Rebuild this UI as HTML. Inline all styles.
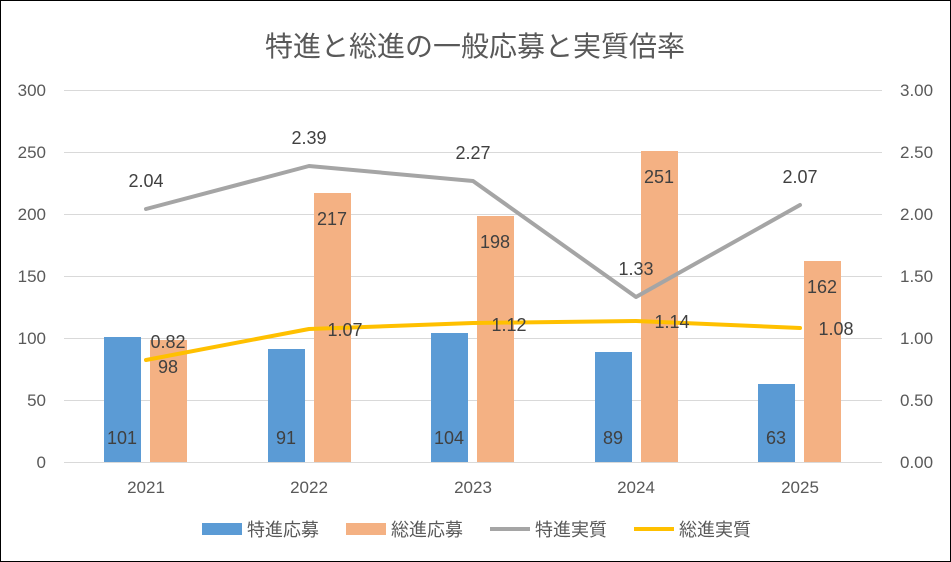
<!DOCTYPE html>
<html><head><meta charset="utf-8"><style>
html,body{margin:0;padding:0;background:#fff;}
svg{display:block;}
text{font-family:"Liberation Sans","Noto Sans CJK JP",sans-serif;}
</style></head><body>
<svg width="951" height="562" viewBox="0 0 951 562" xmlns="http://www.w3.org/2000/svg">
<rect x="0.5" y="0.5" width="950" height="561" fill="#fff" stroke="#000" stroke-width="1"/>
<text x="475" y="56" text-anchor="middle" font-size="28" fill="#595959">特進と総進の一般応募と実質倍率</text>
<g stroke="#d9d9d9" stroke-width="1">
<line x1="64" y1="90.5" x2="882" y2="90.5"/>
<line x1="64" y1="152.5" x2="882" y2="152.5"/>
<line x1="64" y1="214.5" x2="882" y2="214.5"/>
<line x1="64" y1="276.5" x2="882" y2="276.5"/>
<line x1="64" y1="338.5" x2="882" y2="338.5"/>
<line x1="64" y1="400.5" x2="882" y2="400.5"/>
<line x1="64" y1="462.5" x2="882" y2="462.5"/>
</g>
<g font-size="17" fill="#595959" text-anchor="end">
<text x="46" y="96">300</text><text x="46" y="158">250</text><text x="46" y="220">200</text>
<text x="46" y="282">150</text><text x="46" y="344">100</text><text x="46" y="406">50</text><text x="46" y="468">0</text>
</g>
<g font-size="17" fill="#595959" text-anchor="start">
<text x="900" y="96">3.00</text><text x="900" y="158">2.50</text><text x="900" y="220">2.00</text>
<text x="900" y="282">1.50</text><text x="900" y="344">1.00</text><text x="900" y="406">0.50</text><text x="900" y="468">0.00</text>
</g>
<g font-size="17" fill="#595959" text-anchor="middle">
<text x="146" y="493">2021</text><text x="309" y="493">2022</text><text x="473" y="493">2023</text><text x="636" y="493">2024</text><text x="800" y="493">2025</text>
</g>
<g fill="#5b9bd5">
<rect x="104" y="337" width="37" height="125"/>
<rect x="268" y="349" width="37" height="113"/>
<rect x="431" y="333" width="37" height="129"/>
<rect x="595" y="352" width="37" height="110"/>
<rect x="758" y="384" width="37" height="78"/>
</g>
<g fill="#f4b183">
<rect x="150" y="340" width="37" height="122"/>
<rect x="314" y="193" width="37" height="269"/>
<rect x="477" y="216" width="37" height="246"/>
<rect x="641" y="151" width="37" height="311"/>
<rect x="804" y="261" width="37" height="201"/>
</g>
<g font-size="18" fill="#404040" text-anchor="middle">
<text x="122" y="444">101</text><text x="286" y="444">91</text><text x="449" y="444">104</text><text x="613" y="444">89</text><text x="776" y="444">63</text>
<text x="168" y="373">98</text><text x="332" y="225">217</text><text x="495" y="248">198</text><text x="659" y="183">251</text><text x="822" y="293">162</text>
</g>
<polyline points="146,209 309,166 473,181 636,297 800,205" fill="none" stroke="#a5a5a5" stroke-width="4" stroke-linejoin="round" stroke-linecap="round"/>
<polyline points="146,360 309,329 473,323 636,321 800,328" fill="none" stroke="#ffc000" stroke-width="4" stroke-linejoin="round" stroke-linecap="round"/>
<g font-size="18" fill="#404040" text-anchor="middle">
<text x="146" y="187">2.04</text><text x="309" y="144">2.39</text><text x="473" y="159">2.27</text><text x="636" y="275">1.33</text><text x="800" y="183">2.07</text>
<text x="168" y="348">0.82</text><text x="345" y="336">1.07</text><text x="509" y="331">1.12</text><text x="672" y="328">1.14</text><text x="836" y="335">1.08</text>
</g>
<rect x="202" y="523" width="40" height="12" fill="#5b9bd5"/>
<text x="247" y="536" font-size="18" fill="#595959">特進応募</text>
<rect x="346" y="523" width="40" height="12" fill="#f4b183"/>
<text x="391" y="536" font-size="18" fill="#595959">総進応募</text>
<line x1="490" y1="529" x2="530" y2="529" stroke="#a5a5a5" stroke-width="4"/>
<text x="535" y="536" font-size="18" fill="#595959">特進実質</text>
<line x1="634" y1="529" x2="674" y2="529" stroke="#ffc000" stroke-width="4"/>
<text x="679" y="536" font-size="18" fill="#595959">総進実質</text>
</svg>
</body></html>
